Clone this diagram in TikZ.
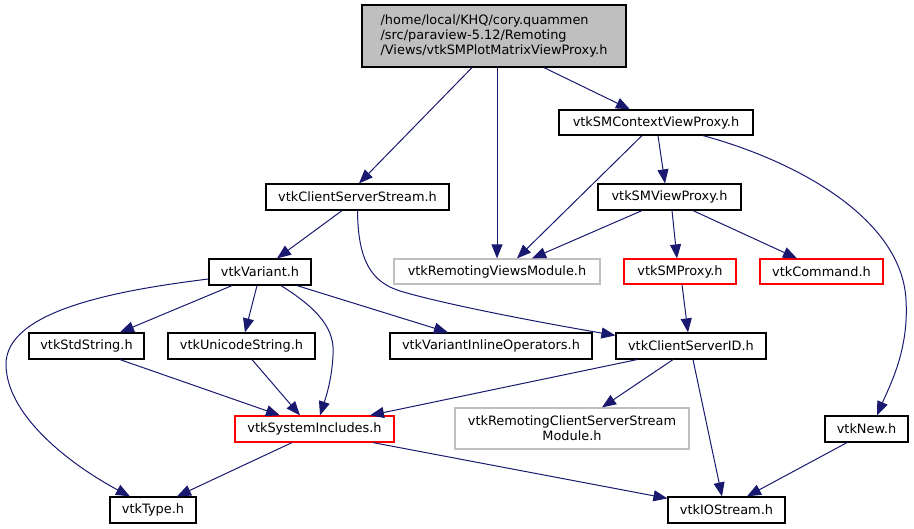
\documentclass[tikz,border=0pt]{standalone}
\usepackage{fontspec}
\setmainfont{DejaVu Sans}
\usetikzlibrary{arrows.meta}
\definecolor{edgeblue}{HTML}{191970}
\definecolor{boxgray}{HTML}{BFBFBF}
\definecolor{boxred}{HTML}{FF0000}
\tikzset{
  hbox/.style={draw=black, line width=1.2pt, fill=white, inner sep=0pt,
    font=\fontsize{12.9}{14.8}\selectfont, anchor=center},
  graybox/.style={hbox, draw=boxgray},
  redbox/.style={hbox, draw=boxred},
  rootbox/.style={hbox, fill=boxgray, align=left},
  dep/.style={draw=edgeblue, line width=1pt,
    -{Triangle[length=14pt,width=11pt,fill=edgeblue]}},
}
\begin{document}
\begin{tikzpicture}[x=1pt,y=-1pt]
\useasboundingbox (0,0) rectangle (914,529);
% nodes
\node[rootbox, minimum width=264pt, minimum height=62pt] (root) at (494,36)
  {/home/local/KHQ/cory.quammen\\/src/paraview-5.12/Remoting\\/Views/vtkSMPlotMatrixViewProxy.h};
\node[hbox, minimum width=194pt, minimum height=25pt] (ctx) at (656,122.5) {vtkSMContextViewProxy.h};
\node[hbox, minimum width=183pt, minimum height=26pt] (css) at (357.5,197) {vtkClientServerStream.h};
\node[hbox, minimum width=143pt, minimum height=26pt] (vp) at (669.5,197) {vtkSMViewProxy.h};
\node[graybox, minimum width=206pt, minimum height=25pt] (rvm) at (497,271.5) {vtkRemotingViewsModule.h};
\node[redbox, minimum width=112pt, minimum height=25pt] (smp) at (680,271.5) {vtkSMProxy.h};
\node[redbox, minimum width=123pt, minimum height=25pt] (cmd) at (821.5,271.5) {vtkCommand.h};
\node[hbox, minimum width=102pt, minimum height=26pt] (var) at (260,272) {vtkVariant.h};
\node[hbox, minimum width=115pt, minimum height=26pt] (std) at (86.5,346) {vtkStdString.h};
\node[hbox, minimum width=147pt, minimum height=26pt] (uni) at (241.5,346) {vtkUnicodeString.h};
\node[hbox, minimum width=202pt, minimum height=26pt] (vio) at (491,346) {vtkVariantInlineOperators.h};
\node[hbox, minimum width=150pt, minimum height=26pt] (csid) at (691,346) {vtkClientServerID.h};
\node[redbox, minimum width=159pt, minimum height=26pt] (sys) at (314.5,429) {vtkSystemIncludes.h};
\node[graybox, minimum width=234pt, minimum height=41pt, align=center] (rcs) at (572,428.5)
  {vtkRemotingClientServerStream\\Module.h};
\node[hbox, minimum width=83pt, minimum height=26pt] (new) at (866.5,429) {vtkNew.h};
\node[hbox, minimum width=86pt, minimum height=26pt] (type) at (153,510) {vtkType.h};
\node[hbox, minimum width=117pt, minimum height=26pt] (ios) at (726.5,510) {vtkIOStream.h};
% edges
\draw[dep] ([xshift=-22pt]root.south) -- ([xshift=1.5pt]css.north);
\draw[dep] ([xshift=3pt]root.south) -- ([xshift=0pt]rvm.north);
\draw[dep] ([xshift=50pt]root.south) -- ([xshift=-26pt]ctx.north);
\draw[dep] ([xshift=-14pt]ctx.south) -- ([xshift=20pt]rvm.north);
\draw[dep] ([xshift=2pt]ctx.south) -- ([xshift=-4.5pt]vp.north);
\draw[dep] ([xshift=47pt]ctx.south) .. controls (800,162) and (902,220) .. (906,300)
  .. controls (909,350) and (890,385) .. ([xshift=10.5pt]new.north);
\draw[dep] ([xshift=-15.5pt]css.south) -- ([xshift=17pt]var.north);
\draw[dep] (css.south) .. controls (358,262) and (372,282) .. (400,291)
  .. controls (450,306) and (560,326) .. ([yshift=-3pt]csid.north west);
\draw[dep] ([xshift=-27.5pt]vp.south) -- ([xshift=35pt]rvm.north);
\draw[dep] ([xshift=2.5pt]vp.south) -- ([xshift=-3pt]smp.north);
\draw[dep] ([xshift=23.5pt]vp.south) -- ([xshift=-24.5pt]cmd.north);
\draw[dep] ([xshift=2pt]smp.south) -- ([xshift=-3pt]csid.north);
\draw[dep] ([yshift=-7pt]var.west) .. controls (120,290) and (5,310) .. (6,365)
  .. controls (7,420) and (80,470) .. ([xshift=-23pt]type.north);
\draw[dep] ([xshift=-28pt]var.south) -- ([xshift=33.5pt]std.north);
\draw[dep] ([xshift=-3pt]var.south) -- ([xshift=3.5pt]uni.north);
\draw[dep] ([xshift=21pt]var.south) .. controls (320,310) and (335,330) .. (333,355)
  .. controls (332,380) and (325,400) .. ([xshift=5.5pt]sys.north);
\draw[dep] ([xshift=37pt]var.south) -- ([xshift=-43pt]vio.north);
\draw[dep] ([xshift=33.5pt]std.south) -- ([xshift=-34.5pt]sys.north);
\draw[dep] ([xshift=10.5pt]uni.south) -- ([xshift=-14.5pt]sys.north);
\draw[dep] ([xshift=-54pt]csid.south) -- ([xshift=55.5pt]sys.north);
\draw[dep] ([xshift=-18pt]csid.south) -- ([xshift=30pt]rcs.north);
\draw[dep] ([xshift=2pt]csid.south) -- ([xshift=-4.5pt]ios.north);
\draw[dep] ([xshift=-22.5pt]sys.south) -- ([xshift=24pt]type.north);
\draw[dep] ([xshift=58.5pt]sys.south) -- ([yshift=-2pt]ios.north west);
\draw[dep] ([xshift=-19.5pt]new.south) -- ([xshift=20.5pt]ios.north);
\end{tikzpicture}
\end{document}
